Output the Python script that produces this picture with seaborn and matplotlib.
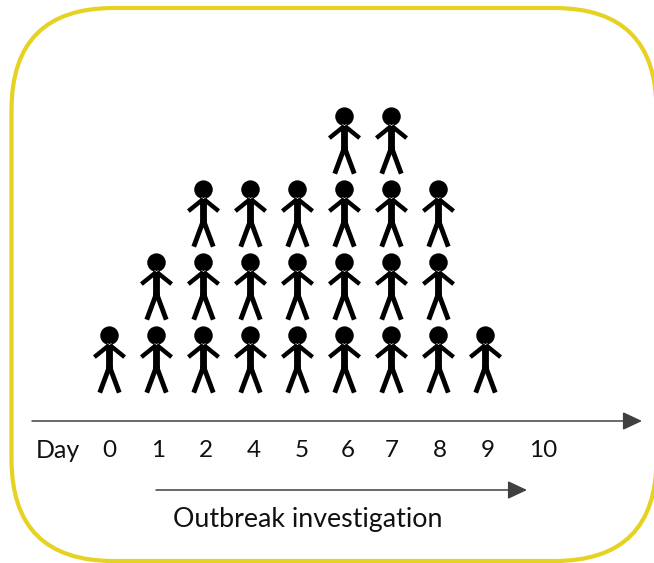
import matplotlib
matplotlib.use("Agg")
import matplotlib.pyplot as plt
from matplotlib.patches import FancyBboxPatch
from matplotlib.path import Path
import numpy as np
import pandas as pd
import seaborn as sns

days = ["0", "1", "2", "4", "5", "6", "7", "8", "9", "10"]
cases = [1, 2, 3, 3, 3, 4, 4, 3, 1, 0]
title_day = "Day"
span_label = "Outbreak investigation"

W, H = 654, 563
GREY = "#404040"
YELLOW = "#E6D222"

sns.set_style("white")
plt.rcParams["font.family"] = ["Lato", "DejaVu Sans"]


def limb(p0, p1, w):
    p0, p1 = np.array(p0, float), np.array(p1, float)
    d = p1 - p0
    n = np.array([-d[1], d[0]]) / np.hypot(*d) * w / 2
    return [p0 + n, p1 + n, p1 - n, p0 - n, p0 + n]


def stick_figure():
    parts = [
        limb((0, 15.5), (0, -9), 7),
        limb((0, 15), (-15.5, 2.5), 4.5),
        limb((0, 15), (15.5, 2.5), 4.5),
        limb((0, -7), (-10, -34), 5),
        limb((0, -7), (10, -34), 5),
    ]
    verts, codes = [], []
    for q in parts:
        verts += q
        codes += [Path.MOVETO] + [Path.LINETO] * 3 + [Path.CLOSEPOLY]
    head = Path.circle((0, 24.5), 9.5)
    verts += list(head.vertices)
    codes += list(head.codes)
    return Path(np.array(verts), codes)


# one row per person, stacked by day
rows = []
for i, n in enumerate(cases):
    for level in range(n):
        rows.append({"day": i, "level": level})
df = pd.DataFrame(rows)

fig = plt.figure(figsize=(W / 100, H / 100), dpi=100)
ax = fig.add_axes([0, 0, 1, 1])
ax.patch.set_alpha(0)

sns.scatterplot(data=df, x="day", y="level", marker=stick_figure(), s=2397,
                color="black", linewidth=0, ax=ax, zorder=3)

# 47 px per day, 73 px per stacked person
ax.set_xlim(-109 / 47, (W - 109) / 47)
ax.set_ylim((359 - H) / 73, 359 / 73)
ax.set_xlabel("")
ax.set_ylabel("")
for s in ["top", "left", "right"]:
    ax.spines[s].set_visible(False)
# spine position resets the ticks, so it goes first
ax.spines["bottom"].set_position(("data", (359 - 421) / 73))
ax.spines["bottom"].set_visible(False)
ax.set_yticks([])
tick_pos = [0, 1.04, 2.06, 3.09, 4.09, 5.09, 6.02, 7.04, 8.06, 9.23]
ax.set_xticks(tick_pos)
ax.set_xticklabels(days, fontsize=17.5, color="#111111")
ax.tick_params(axis="x", length=0, pad=13.5)

# overlay in pixel units for the frame, arrows and free text
ov = fig.add_axes([0, 0, 1, 1], zorder=-1)
ov.set_xlim(0, W)
ov.set_ylim(H, 0)
ov.axis("off")

# right edge runs just past the canvas, as in the source image
ov.add_patch(FancyBboxPatch((11.5, 8), 645, 553,
                            boxstyle="round,pad=0,rounding_size=102",
                            fc="white", ec=YELLOW, lw=3))

for x0, x1, y in [(32, 642, 421), (156, 527, 490)]:
    ov.annotate("", xy=(x1, y), xytext=(x0, y),
                arrowprops=dict(arrowstyle="-|>,head_length=0.85,head_width=0.4",
                                color=GREY, lw=1.1, shrinkA=0, shrinkB=0,
                                mutation_scale=14))

ov.text(58, 450, title_day, ha="center", va="center", fontsize=18, color="#111111")
ov.text(307.5, 519.5, span_label, ha="center", va="center", fontsize=19.3, color="#111111")

fig.savefig("out.png", dpi=100)
